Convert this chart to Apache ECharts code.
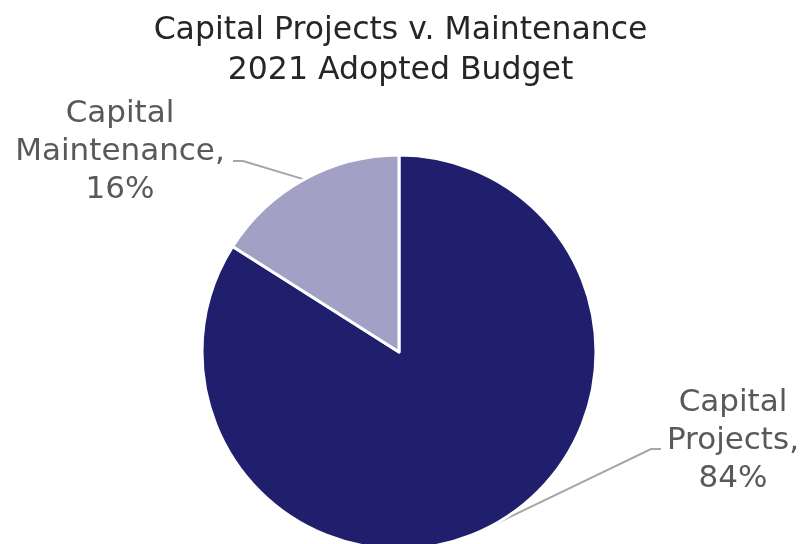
<!DOCTYPE html>
<html><head><meta charset="utf-8">
<script src="https://cdn.jsdelivr.net/npm/echarts@6/dist/echarts.min.js"></script>
<style>html,body{margin:0;padding:0;background:#fff}#c{width:801px;height:544px}</style>
</head><body><div id="c"></div>
<script>
const titleLines = ['Capital Projects v. Maintenance', '2021 Adopted Budget'];
const categories = ['Capital Projects', 'Capital Maintenance'];
const labelNames = ['Capital\nProjects,', 'Capital\nMaintenance,'];
const values = [84, 16];
const colors = ['#1f1f6e', '#a3a0c6'];

const chart = echarts.init(document.getElementById('c'));
const FONT = 'DejaVu Sans';
chart.setOption({
  animation: false,
  title: {
    text: titleLines.join('\n'),
    left: 'center', top: 6,
    textStyle: { fontFamily: FONT, fontSize: 31.5, fontWeight: 'normal', color: '#262626', lineHeight: 40 }
  },
  series: [{
    type: 'pie',
    center: [399, 352],
    radius: 197,
    startAngle: 90,
    clockwise: true,
    itemStyle: { borderColor: '#fff', borderWidth: 3 },
    data: categories.map((c, i) => ({ name: c, value: values[i], itemStyle: { color: colors[i] } })),
    label: {
      show: true,
      formatter: p => labelNames[p.dataIndex] + '\n' + p.value + '%',
      fontFamily: FONT, fontSize: 31, color: '#595959', lineHeight: 38, align: 'center'
    },
    labelLine: { show: true, lineStyle: { color: '#a6a6a6', width: 2 } },
    labelLayout: function (p) {
      const s = p.labelLinePoints ? p.labelLinePoints[0] : [0, 0];
      if (p.dataIndex === 0) {
        return { x: 733, y: 441, align: 'center', verticalAlign: 'middle',
          labelLinePoints: [s, [651, 449], [661, 449]] };
      }
      return { x: 120, y: 152, align: 'center', verticalAlign: 'middle',
        labelLinePoints: [s, [243, 161], [233, 161]] };
    }
  }]
});
</script></body></html>
